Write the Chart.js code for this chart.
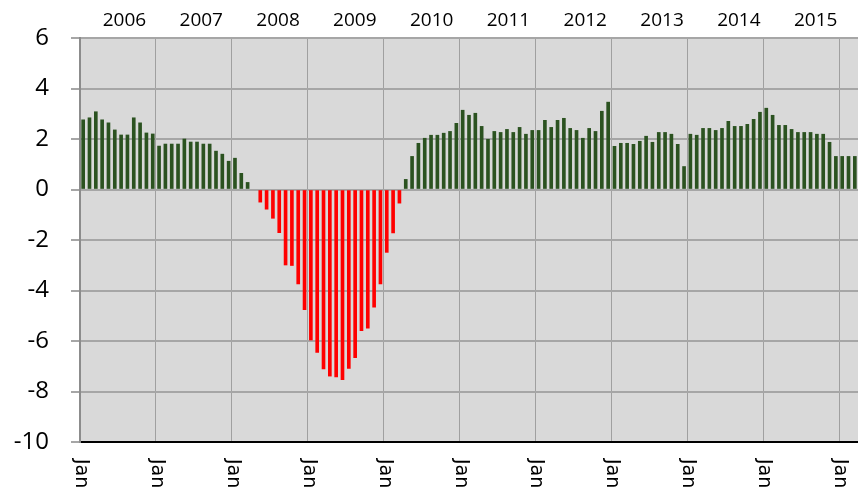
<!DOCTYPE html>
<html>
<head>
<meta charset="utf-8">
<script src="https://cdn.jsdelivr.net/npm/chart.js@4"></script>
<style>
  body { margin: 0; background: #fff; }
  #wrap { width: 858px; height: 495px; position: relative; }
</style>
</head>
<body>
<div id="wrap"><canvas id="chart"></canvas></div>
<script>
// monthly values, Jan 2006 .. Mar 2016
const years = [2006, 2007, 2008, 2009, 2010, 2011, 2012, 2013, 2014, 2015, 2016];
const monthNames = ['Jan', 'Feb', 'Mar', 'Apr', 'May', 'Jun', 'Jul', 'Aug', 'Sep', 'Oct', 'Nov', 'Dec'];
const values = [
  2.76, 2.84, 3.08, 2.76, 2.64, 2.36, 2.16, 2.16, 2.84, 2.64, 2.24, 2.20,
  1.72, 1.80, 1.80, 1.80, 2.00, 1.88, 1.88, 1.80, 1.80, 1.52, 1.40, 1.12,
  1.24, 0.64, 0.28, null, -0.50, -0.78, -1.14, -1.71, -2.99, -3.01, -3.74, -4.76,
  -5.96, -6.45, -7.11, -7.39, -7.42, -7.53, -7.09, -6.66, -5.59, -5.49, -4.66, -3.74,
  -2.49, -1.72, -0.54, 0.40, 1.31, 1.83, 2.03, 2.15, 2.15, 2.23, 2.30, 2.62,
  3.14, 2.94, 3.02, 2.50, 1.99, 2.30, 2.26, 2.38, 2.26, 2.46, 2.19, 2.34,
  2.34, 2.74, 2.46, 2.74, 2.82, 2.42, 2.34, 2.03, 2.42, 2.30, 3.10, 3.46,
  1.71, 1.83, 1.83, 1.79, 1.91, 2.11, 1.87, 2.26, 2.26, 2.19, 1.79, 0.91,
  2.19, 2.15, 2.42, 2.42, 2.34, 2.42, 2.70, 2.50, 2.50, 2.58, 2.78, 3.06,
  3.22, 2.94, 2.54, 2.54, 2.38, 2.26, 2.26, 2.26, 2.19, 2.19, 1.87, 1.31,
  1.31, 1.31, 1.31
];
const yearLabels = ['2006', '2007', '2008', '2009', '2010', '2011', '2012', '2013', '2014', '2015'];

const labels = [];
years.forEach(y => monthNames.forEach(m => labels.push(m + ' ' + y)));
labels.length = values.length;

const green = '#2b5220';
const red = '#ff0000';

const plotBg = {
  id: 'plotBg',
  beforeDraw(chart) {
    const { ctx, chartArea: a } = chart;
    ctx.save();
    ctx.fillStyle = '#d9d9d9';
    ctx.fillRect(a.left, a.top, a.right - a.left, a.bottom - a.top);
    ctx.restore();
  }
};

const axisText = {
  id: 'axisText',
  afterDraw(chart) {
    const { ctx, chartArea: a } = chart;
    const x = chart.scales.x;
    const half = (x.getPixelForValue(1) - x.getPixelForValue(0)) / 2;
    ctx.save();
    ctx.fillStyle = '#000';
    // year names above the plot (they drift a bit right of the year middle)
    ctx.font = '19px "Open Sans"';
    ctx.textAlign = 'center';
    ctx.textBaseline = 'alphabetic';
    yearLabels.forEach((t, i) => {
      ctx.fillText(t, x.getPixelForValue(i * 12 + 7) - 3 + i * 0.9, 26);
    });
    // "Jan" at each year start, rotated clockwise
    ctx.font = '19px "DejaVu Sans"';
    ctx.textAlign = 'left';
    ctx.textBaseline = 'middle';
    years.forEach((y, i) => {
      const idx = i * 12;
      if (idx >= values.length) return;
      const px = x.getPixelForValue(idx) - half + 1;
      ctx.save();
      ctx.translate(px, a.bottom + 17);
      ctx.rotate(Math.PI / 2);
      ctx.fillText(monthNames[0], 0, 0);
      ctx.restore();
    });
    ctx.restore();
  }
};

new Chart(document.getElementById('chart'), {
  type: 'bar',
  data: {
    labels: labels,
    datasets: [{
      data: values,
      backgroundColor: values.map(v => v < 0 ? red : green),
      barThickness: 3
    }]
  },
  options: {
    responsive: true,
    maintainAspectRatio: false,
    animation: false,
    layout: { padding: { top: 38, right: 0, left: 0, bottom: 0 } },
    plugins: {
      legend: { display: false },
      tooltip: { enabled: false }
    },
    scales: {
      x: {
        offset: true,
        grid: {
          offset: true,
          drawTicks: false,
          lineWidth: 1,
          color: c => (c.index !== undefined && c.index > 0 && c.index % 12 === 0) ? '#a0a0a0' : 'transparent'
        },
        border: { color: '#000', width: 2 },
        ticks: { display: false, autoSkip: false },
        afterFit: s => { s.height = 53; }
      },
      y: {
        min: -10,
        max: 6,
        ticks: {
          stepSize: 2,
          color: '#000',
          padding: 22,
          font: { family: 'Open Sans', size: 24 }
        },
        grid: {
          lineWidth: 2,
          tickLength: 9,
          tickColor: '#a6a6a6',
          color: c => (c.tick && c.tick.value === -10) ? 'transparent' : '#a6a6a6'
        },
        border: { color: '#8c8c8c', width: 2 },
        afterFit: s => { s.width = 80; }
      }
    }
  },
  plugins: [plotBg, axisText]
});
</script>
</body>
</html>
